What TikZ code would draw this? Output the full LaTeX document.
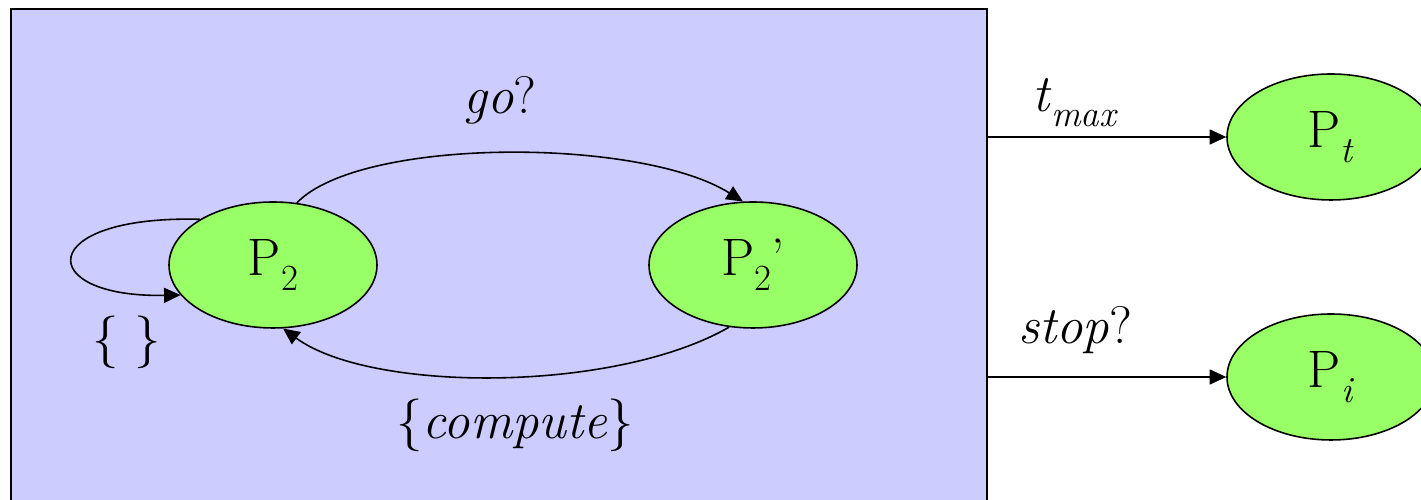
\documentclass[tikz,border=0pt]{standalone}
\usetikzlibrary{shapes.geometric,arrows.meta}
\definecolor{boxblue}{HTML}{CCCCFF}
\definecolor{stategreen}{HTML}{99FF66}
\newcommand{\lowsub}[1]{\raisebox{-0.28em}{\fontsize{21}{24}\selectfont #1}}
\tikzset{
  state/.style={ellipse,draw,line width=0.9pt,fill=stategreen,minimum width=4.16cm,minimum height=2.52cm,inner sep=0pt},
  arr/.style={line width=0.9pt,-{Triangle[length=0.33cm,width=0.3cm]}},
  every node/.style={font=\fontsize{30}{36}\selectfont}
}
\begin{document}
\begin{tikzpicture}
\clip (0,0) rectangle (28.42,10);
\node[draw,line width=1pt,fill=boxblue,minimum width=19.52cm,minimum height=10.22cm,inner sep=0pt] (box) at (9.98,4.71) {};
\node[state] (P2) at (5.46,4.70) {P\lowsub{2}};
\node[state] (P2p) at (15.06,4.70) {P\lowsub{2}’};
\node[state] (Pt) at (26.62,7.26) {P\lowsub{\textit{t}}};
\node[state] (Pi) at (26.62,2.46) {P\lowsub{\textit{i}}};
% transitions inside the box
\draw[arr] (P2.69) .. controls (7.2,7.26) and (12.8,7.26) .. (P2p.99);
\draw[arr] (P2p.-111) .. controls (12.3,2.14) and (7.42,2.14) .. (P2.-81);
\draw[arr] (P2.148) .. controls (0.68,5.70) and (0.68,4.04) .. (P2.-162);
% outputs
\draw[arr] (box.east |- Pt) -- (Pt);
\draw[arr] (box.east |- Pi) -- (Pi);
\node (go) at (10.0,8.0) {\textit{go}?};
\node (comp) at (10.3,1.5) {\{\textit{compute}\}};
\node (idle) at (2.54,3.16) {\{ \}};
\node (tmax) at (21.5,7.95) {\textit{t}\lowsub{\textit{max}}};
\node (stop) at (21.5,3.4) {\textit{stop}?};
\end{tikzpicture}
\end{document}
